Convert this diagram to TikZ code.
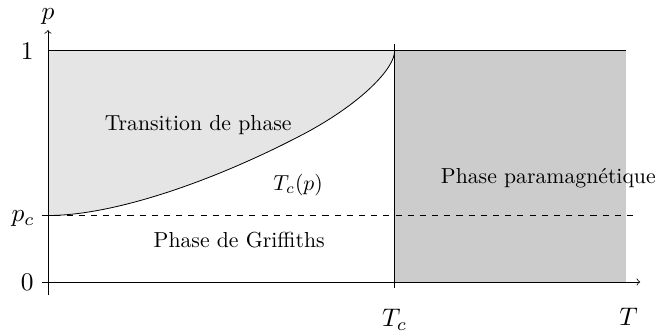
\documentclass[tikz,border=0pt]{standalone}
\usepackage{tikz}
\usetikzlibrary{calc}

\begin{document}
\begin{tikzpicture}[scale=1, every node/.style={scale=1.07}, axlabel/.style={scale=1.17}]
		\useasboundingbox (-0.83,-0.935) rectangle (10.61,4.88);
		% zones
		\fill[gray!20] (0,1.15) .. controls (1.2,1.15) and (3,1.8) .. (4.5,2.6) .. controls (5.45,3.12) and (6,3.7) .. (6,4) -- (0,4) -- cycle;
		\fill[gray!40] (6,0) rectangle (10,4);
		% points
		\coordinate (O) at (0,0);
		\coordinate (Xs) at (-0.1,0);
		\coordinate (Xe) at (10.25,0);
		\coordinate (Ys) at (0,-0.23);
		\coordinate (Ye) at (0,4.36);
		\coordinate (A) at (0,4);
		\coordinate (B) at (10,4);
		\coordinate (Pc) at (0,1.15);
		\coordinate (Ds) at (-0.1,1.15);
		\coordinate (De) at (10.2,1.15);
		\coordinate (Tt) at (6,4.12);
		\coordinate (Tb) at (6,-0.1);
		\coordinate (Tm) at (6,4);
		\draw (A) -- (B);
		\draw (Pc) .. controls (1.2,1.15) and (3,1.8) .. (4.5,2.6) .. controls (5.45,3.12) and (6,3.7) .. (Tm);
		\draw[dashed] (Ds) -- (De);
		\draw (Tt) -- (Tb);
		\draw[->] (Xs) -- (Xe);
		\draw[->] (Ys) -- (Ye);
		% labels
		\node[axlabel, inner sep=1pt] (p) at (0,4.6) {$p$};
		\node[axlabel] (un) at (-0.36,4) {$1$};
		\node[axlabel] (pc) at (-0.43,1.1) {$p_c$};
		\node[axlabel] (zero) at (-0.36,0) {$0$};
		\node[axlabel] (Tc) at (6,-0.66) {$T_c$};
		\node[axlabel] (T) at (10.05,-0.6) {$T$};
		\node (trans) at (2.6,2.72) {Transition de phase};
		\node (Tcp) at (4.33,1.68) {$T_c(p)$};
		\node (griff) at (3.31,0.73) {Phase de Griffiths};
		\node (para) at (8.66,1.8) {Phase paramagnétique};
	\end{tikzpicture}
\end{document}
